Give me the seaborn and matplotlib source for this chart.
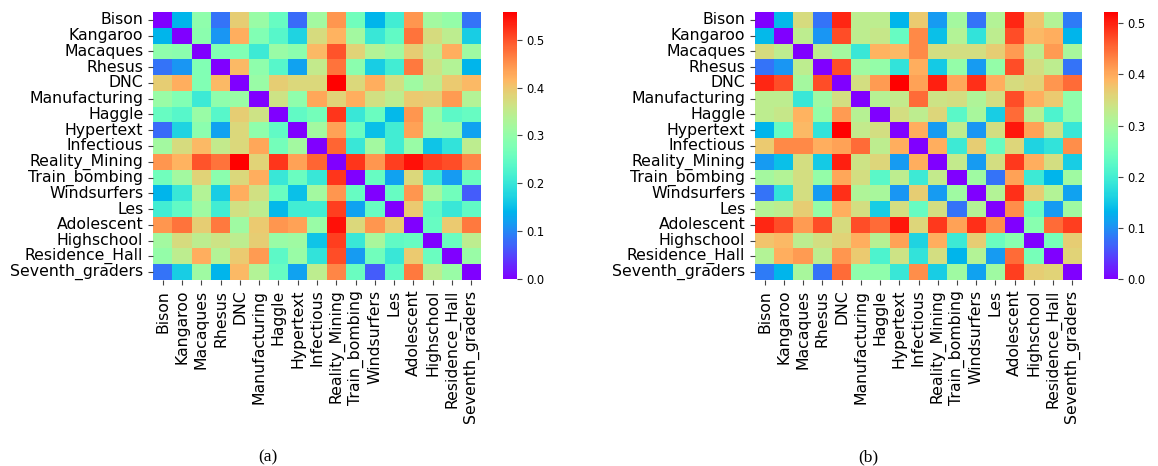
import numpy as np
import matplotlib
matplotlib.use("Agg")
import matplotlib.pyplot as plt
import seaborn as sns

networks = ["Bison", "Kangaroo", "Macaques", "Rhesus", "DNC", "Manufacturing",
            "Haggle", "Hypertext", "Infectious", "Reality_Mining", "Train_bombing",
            "Windsurfers", "Les", "Adolescent", "Highschool", "Residence_Hall",
            "Seventh_graders"]

# Upper triangle (row i, columns i+1 .. 16) of the pairwise distance matrices
dist_a_upper = [
    [.140, .296, .084, .391, .307, .251, .078, .318, .446, .262, .140, .212, .446, .318, .301, .084],
    [.290, .112, .424, .279, .234, .173, .374, .419, .318, .201, .246, .474, .374, .346, .167],
    [.279, .279, .206, .307, .290, .413, .497, .385, .335, .312, .391, .346, .424, .312],
    [.413, .296, .234, .123, .352, .474, .290, .167, .212, .469, .363, .335, .140],
    [.307, .391, .379, .379, .558, .379, .424, .368, .312, .346, .396, .413],
    [.363, .296, .430, .385, .424, .368, .346, .396, .391, .441, .335],
    [.246, .268, .519, .201, .257, .145, .446, .307, .240, .251],
    [.318, .435, .257, .151, .212, .435, .312, .307, .123],
    [.485, .201, .318, .212, .307, .156, .195, .346],
    [.519, .446, .513, .547, .513, .502, .458],
    [.251, .123, .379, .201, .117, .257],
    [.251, .446, .324, .262, .067],
    [.396, .246, .201, .246],
    [.251, .396, .469],
    [.257, .346],
    [.307],
]

dist_b_upper = [
    [.136, .350, .078, .496, .324, .324, .131, .371, .110, .298, .078, .313, .496, .376, .313, .084],
    [.324, .104, .470, .324, .334, .235, .428, .141, .313, .183, .324, .470, .386, .397, .131],
    [.324, .298, .188, .392, .386, .428, .345, .345, .345, .365, .412, .324, .412, .303],
    [.470, .292, .282, .183, .397, .151, .282, .110, .282, .470, .345, .324, .078],
    [.345, .412, .522, .407, .501, .402, .491, .397, .350, .360, .418, .449],
    [.318, .329, .449, .339, .345, .308, .345, .470, .397, .371, .277],
    [.345, .324, .355, .224, .303, .157, .449, .318, .209, .277],
    [.397, .110, .324, .104, .345, .506, .407, .339, .188],
    [.397, .193, .365, .235, .355, .162, .183, .423],
    [.329, .110, .345, .485, .397, .345, .157],
    [.292, .078, .407, .193, .131, .292],
    [.313, .491, .365, .313, .115],
    [.423, .240, .110, .292],
    [.271, .449, .480],
    [.251, .365],
    [.360],
]


def symmetric(upper, n):
    m = np.zeros((n, n))
    for i, row in enumerate(upper):
        for k, v in enumerate(row):
            j = i + 1 + k
            m[i, j] = v
            m[j, i] = v
    return m


n = len(networks)
mat_a = symmetric(dist_a_upper, n)
mat_b = symmetric(dist_b_upper, n)

plt.rcParams["font.family"] = ["DejaVu Sans"]

W, H = 1158, 466
fig = plt.figure(figsize=(W / 100, H / 100), dpi=100)


def box(x0, y0, x1, y1):
    return [x0 / W, 1 - y1 / H, (x1 - x0) / W, (y1 - y0) / H]


panels = [
    (mat_a, box(153, 12, 481, 280), box(503, 12, 517, 279), [0.0, 0.1, 0.2, 0.3, 0.4, 0.5], "(a)", 268),
    (mat_b, box(755, 12, 1082, 280), box(1104, 12, 1118, 279), [0.0, 0.1, 0.2, 0.3, 0.4, 0.5], "(b)", 868),
]

for mat, hpos, cpos, cticks, tag, cx in panels:
    ax = fig.add_axes(hpos)
    cax = fig.add_axes(cpos)
    sns.heatmap(mat, ax=ax, cbar_ax=cax, cmap="rainbow",
                xticklabels=networks, yticklabels=networks,
                cbar_kws={"ticks": cticks})
    ax.set_xticklabels(networks, rotation=90, fontsize=11.3)
    ax.set_yticklabels(networks, rotation=0, fontsize=11.3, va="center")
    ax.tick_params(length=3.5, width=0.8, color="#444444")
    cax.tick_params(labelsize=8.3, length=3.5, width=0.8, color="#444444")
    cax.set_yticklabels([f"{t:.1f}" for t in cticks])
    fig.text(cx / W, 1 - 457 / H, tag, ha="center", va="center",
             family="Liberation Serif", fontsize=12.5)

fig.savefig("out.png", dpi=100)
